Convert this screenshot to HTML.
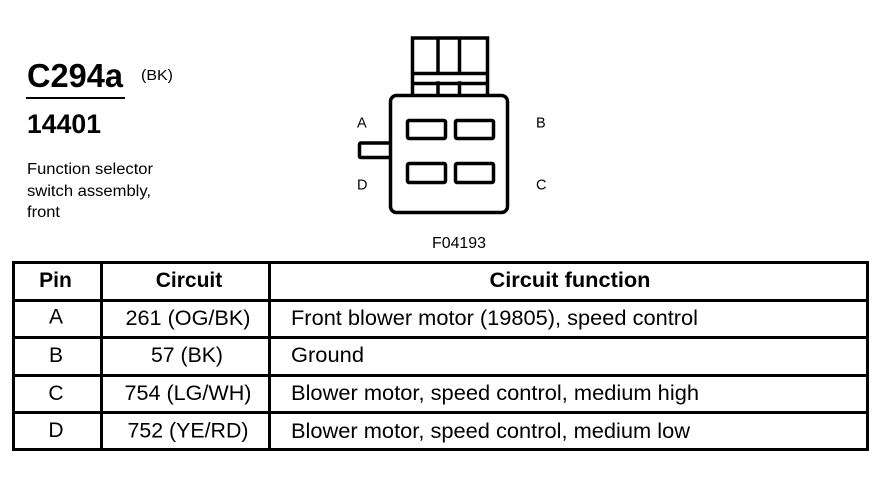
<!DOCTYPE html>
<html>
<head>
<meta charset="utf-8">
<style>
html,body{margin:0;padding:0;background:#fff}
svg{display:block}
text{font-family:"Liberation Sans",sans-serif;fill:#000}
.b{font-weight:bold}
.m{text-anchor:middle}
.t{font-size:21px}
</style>
</head>
<body>
<svg width="888" height="480" viewBox="0 0 888 480" xmlns="http://www.w3.org/2000/svg">
<rect width="888" height="480" fill="#fff"/>
<text x="27" y="87" class="b" font-size="33" textLength="96" lengthAdjust="spacingAndGlyphs">C294a</text>
<text x="141" y="80" font-size="15" textLength="32" lengthAdjust="spacingAndGlyphs">(BK)</text>
<rect x="26" y="97" width="99" height="2" fill="#000"/>
<text x="27" y="133" class="b" font-size="26.5" textLength="74" lengthAdjust="spacingAndGlyphs">14401</text>
<text x="27" y="174" font-size="15.500" textLength="126" lengthAdjust="spacingAndGlyphs">Function selector</text>
<text x="27" y="196" font-size="15.500" textLength="124" lengthAdjust="spacingAndGlyphs">switch assembly,</text>
<text x="27" y="217" font-size="15.500" textLength="33" lengthAdjust="spacingAndGlyphs">front</text>

<g fill="none" stroke="#000" stroke-width="3.500">
<path d="M412.500 94V38H487.500V94M412.500 73.500H487.500M412.500 83.500H487.500M438 38V73M459.500 38V73M438 83V94M459.500 83V94" stroke-linecap="square"/>
<rect x="390.500" y="95.500" width="117" height="117" rx="6"/>
<rect x="407.500" y="120.500" width="38" height="18" rx="1.500"/>
<rect x="455.500" y="120.500" width="38" height="18" rx="1.500"/>
<rect x="407.500" y="163.500" width="38" height="19" rx="1.500"/>
<rect x="455.500" y="163.500" width="38" height="19" rx="1.500"/>
<path d="M390 143H361Q359.500 143 359.500 145V156Q359.500 157.500 361 157.500H390"/>
</g>
<text x="357" y="127.500" font-size="14.500">A</text>
<text x="536" y="127.500" font-size="14.500">B</text>
<text x="357" y="189.500" font-size="14.500">D</text>
<text x="536" y="189.500" font-size="14.500">C</text>
<text x="432" y="248" font-size="15.500" textLength="54" lengthAdjust="spacingAndGlyphs">F04193</text>

<g fill="#000">
<rect x="12" y="261" width="857" height="3"/>
<rect x="12" y="299" width="857" height="3"/>
<rect x="12" y="336" width="857" height="3"/>
<rect x="12" y="374" width="857" height="3"/>
<rect x="12" y="411" width="857" height="3"/>
<rect x="12" y="448" width="857" height="3"/>
<rect x="12" y="261" width="3" height="190"/>
<rect x="100" y="261" width="3" height="190"/>
<rect x="268" y="261" width="3" height="190"/>
<rect x="866" y="261" width="3" height="190"/>
</g>

<text x="55.500" y="287" class="b m t">Pin</text>
<text x="189" y="287" class="b m t">Circuit</text>
<text x="570" y="287" class="b m t" textLength="161" lengthAdjust="spacingAndGlyphs">Circuit function</text>

<text x="56" y="323.500" class="m t">A</text>
<text x="188" y="325" class="m t" textLength="125" lengthAdjust="spacingAndGlyphs">261 (OG/BK)</text>
<text x="291" y="325" class="t" textLength="407" lengthAdjust="spacingAndGlyphs">Front blower motor (19805), speed control</text>

<text x="56" y="362" class="m t">B</text>
<text x="187" y="362" class="m t" textLength="72" lengthAdjust="spacingAndGlyphs">57 (BK)</text>
<text x="291" y="362" class="t" textLength="73" lengthAdjust="spacingAndGlyphs">Ground</text>

<text x="56" y="400" class="m t">C</text>
<text x="188" y="400" class="m t" textLength="127" lengthAdjust="spacingAndGlyphs">754 (LG/WH)</text>
<text x="291" y="400" class="t" textLength="408" lengthAdjust="spacingAndGlyphs">Blower motor, speed control, medium high</text>

<text x="56" y="437" class="m t">D</text>
<text x="188" y="437.500" class="m t" textLength="121" lengthAdjust="spacingAndGlyphs">752 (YE/RD)</text>
<text x="291" y="438" class="t" textLength="399" lengthAdjust="spacingAndGlyphs">Blower motor, speed control, medium low</text>
</svg>
</body>
</html>
